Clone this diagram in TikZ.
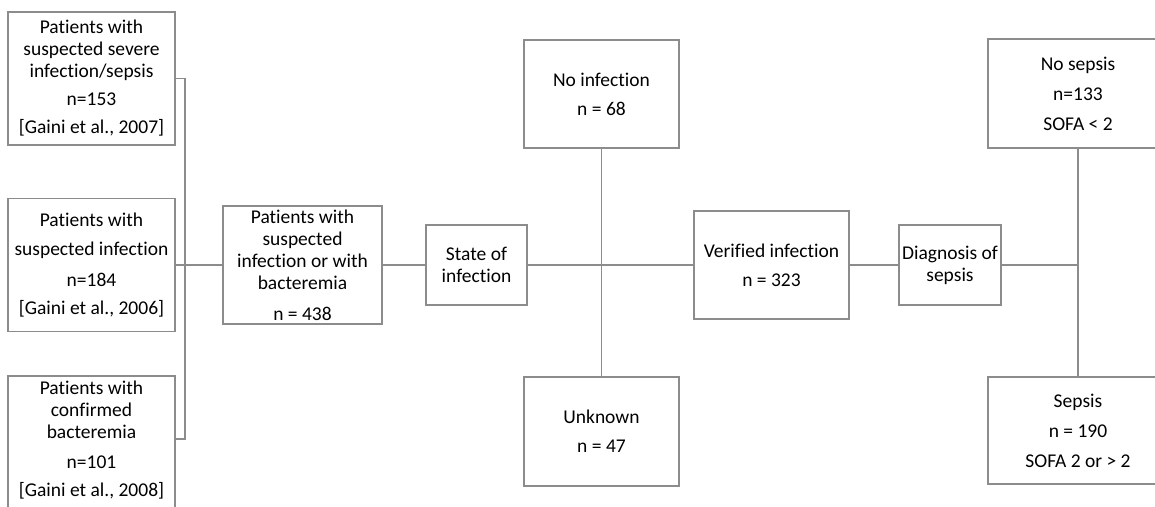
\documentclass[tikz,border=0pt]{standalone}
\usepackage{fontspec}
\setmainfont{Carlito}[Ligatures=NoCommon]
\begin{document}
\begin{tikzpicture}[x=1pt,y=-1pt,
  box/.style={draw=linegray,line width=1.8pt,fill=white,inner sep=0pt,align=center,
    font=\fontsize{19.5}{22}\selectfont,text=black},
  conn/.style={draw=linegray,line width=1.8pt}]
\definecolor{linegray}{RGB}{140,140,140}
\useasboundingbox (0,0) rectangle (1155,506);
\clip (0,0) rectangle (1155,506);
% left column
\node[box,minimum width=167pt,minimum height=133pt] (b1) at (91.5,78.5)
  {Patients with\\suspected severe\\infection/sepsis\\[6pt]n=153\\[6pt][Gaini et al., 2007]};
\node[box,minimum width=167pt,minimum height=133pt] (b2) at (91.5,265)
  {Patients with\\[7pt]suspected infection\\[9pt]n=184\\[6pt][Gaini et al., 2006]};
\node[box,minimum width=167pt,minimum height=140pt,text depth=15pt] (b3) at (91.5,446)
  {Patients with\\confirmed\\bacteremia\\[8pt]n=101\\[6pt][Gaini et al., 2008]};
% pooled
\node[box,minimum width=159pt,minimum height=118pt] (b4) at (302.5,265)
  {Patients with\\suspected\\infection or with\\bacteremia\\[9pt]n = 438};
\node[box,minimum width=101pt,minimum height=80pt] (b5) at (476.5,265)
  {State of\\infection};
% infection state
\node[box,minimum width=155pt,minimum height=108pt] (noinf) at (601.5,94)
  {No infection\\[7pt]n = 68};
\node[box,minimum width=155pt,minimum height=109pt] (unk) at (601.5,431.5)
  {Unknown\\[7pt]n = 47};
\node[box,minimum width=155pt,minimum height=108pt] (ver) at (771.5,265)
  {Verified infection\\[7pt]n = 323};
\node[box,minimum width=102pt,minimum height=80pt] (diag) at (950,265)
  {Diagnosis of\\sepsis};
% sepsis
\node[box,minimum width=180pt,minimum height=109pt] (nos) at (1078,93.5)
  {No sepsis\\[8pt]n=133\\[8pt]SOFA < 2};
\node[box,minimum width=180pt,minimum height=107pt] (sep) at (1078,430.5)
  {Sepsis\\[8pt]n = 190\\[8pt]SOFA 2 or > 2};
% connectors
\coordinate (jl) at (185,265);
\coordinate (jr) at (1078,265);
\coordinate (b3t) at ([yshift=7pt]b3.east);
\draw[conn] (b1.east) -- (b1.east -| jl) -- (b3t -| jl) -- (b3t);
\draw[conn] (b2.east) -- (b4.west);
\draw[conn] (b4.east) -- (b5.west);
\draw[conn] (b5.east) -- (ver.west);
\draw[conn] (noinf.south) -- (unk.north);
\draw[conn] (ver.east) -- (diag.west);
\draw[conn] (diag.east) -- (jr);
\draw[conn] (nos.south) -- (sep.north);
\end{tikzpicture}
\end{document}
